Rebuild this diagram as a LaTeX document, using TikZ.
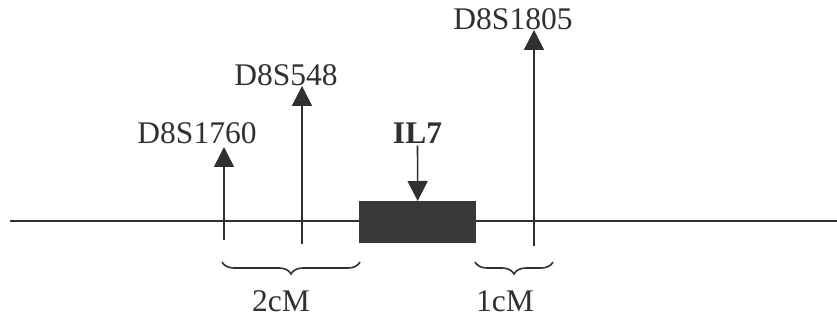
\documentclass[tikz,border=0pt]{standalone}
\usepackage{fontspec}
\setmainfont{Liberation Serif}
\usetikzlibrary{arrows.meta,decorations.pathreplacing}
\definecolor{boxgray}{HTML}{383838}
\definecolor{ink}{HTML}{303030}
\begin{document}
\begin{tikzpicture}[x=1pt,y=-1pt,
  lbl/.style={font=\fontsize{31.5}{34}\selectfont, text=ink, inner sep=0pt},
  marker/.style={draw=ink, line width=1.6pt, -{Triangle[width=20pt,length=20pt]}},
  bracestyle/.style={draw=ink, line width=1.6pt, decorate, decoration={brace, mirror, amplitude=12pt}}]
\useasboundingbox (0,0) rectangle (837,323);
% main line
\coordinate (L) at (10,221);
\coordinate (R) at (837,221);
\draw[ink, line width=2.8pt] (L) -- (R);
% gene box
\node[fill=boxgray, minimum width=117pt, minimum height=42pt, inner sep=0pt, anchor=north west] (box) at (359,201) {};
% markers
\coordinate (m1b) at (224,240); \coordinate (m1t) at (224,147);
\coordinate (m2b) at (302,244); \coordinate (m2t) at (302,86);
\coordinate (m3b) at (534,246); \coordinate (m3t) at (534,30);
\draw[marker] (m1b) -- (m1t);
\draw[marker] (m2b) -- (m2t);
\draw[marker] (m3b) -- (m3t);
\node[lbl] (l1) at (197,133) {D8S1760};
\node[lbl] (l2) at (286,75) {D8S548};
\node[lbl] (l3) at (513,19) {D8S1805};
% IL7
\node[lbl, font=\fontsize{31.5}{34}\selectfont\bfseries] (il7) at (417.5,133) {IL7};
\draw[marker, shorten <=2pt] (il7.south) -- (box.north);
% braces
\coordinate (b1a) at (222,262); \coordinate (b1b) at (360,262);
\coordinate (b2a) at (475,262); \coordinate (b2b) at (553,262);
\draw[bracestyle] (b1a) -- (b1b);
\draw[bracestyle] (b2a) -- (b2b);
\node[lbl] (c1) at (281,301) {2cM};
\node[lbl] (c2) at (505,301) {1cM};
\end{tikzpicture}
\end{document}
